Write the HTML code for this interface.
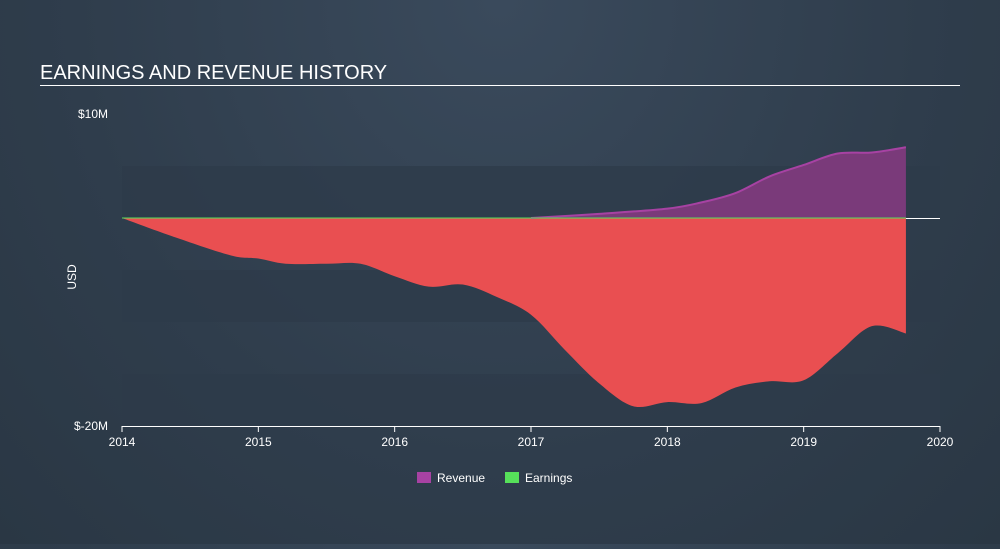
<!DOCTYPE html>
<html><head><meta charset="utf-8"><style>
body{margin:0;width:1000px;height:544px;overflow:hidden;background:radial-gradient(ellipse at 50% 0%,#3a4a5c 0%,#2f3d4c 60%,#2a3744 100%);font-family:"Liberation Sans",sans-serif;}
</style></head><body>
<svg width="1000" height="544" id="c">
<text x="40" y="79" fill="#fff" font-size="20">EARNINGS AND REVENUE HISTORY</text>
<line x1="40" y1="85.5" x2="960" y2="85.5" stroke="#fff" stroke-width="1"/>
<text x="76" y="277" fill="#fff" font-size="12" transform="rotate(-90 76 277)" text-anchor="middle">USD</text>
<g id="g"></g>
<g>
<rect x="417" y="472" width="14" height="11" fill="#a742a3"/>
<text x="437" y="482" fill="#fff" font-size="12">Revenue</text>
<rect x="505" y="472" width="14" height="11" fill="#56e05a"/>
<text x="525" y="482" fill="#fff" font-size="12">Earnings</text>
</g>
</svg>
<script>
const revYears=[2017,2017.5,2018,2018.25,2018.5,2018.75,2019,2019.25,2019.5,2019.75];
const revVals=[0,0.4,0.9,1.5,2.4,4.0,5.1,6.2,6.3,6.8];
const earnYears=[2014,2014.4,2014.8,2015,2015.2,2015.5,2015.75,2016,2016.25,2016.5,2016.75,2017,2017.25,2017.5,2017.75,2018,2018.25,2018.5,2018.75,2019,2019.25,2019.5,2019.75];
const earnVals=[0,-1.9,-3.6,-3.9,-4.4,-4.4,-4.4,-5.6,-6.6,-6.4,-7.6,-9.3,-12.7,-15.9,-18.1,-17.7,-17.8,-16.3,-15.7,-15.6,-13,-10.4,-11.1];
const xTicks=[2014,2015,2016,2017,2018,2019,2020];
const yTicks=[10,-20];
const yTickLabels=["$10M","$-20M"];
const X=v=>122+(v-2014)*(818/6);
const Y=v=>218-v*10.4;
const g=document.getElementById('g');
const NS='http://www.w3.org/2000/svg';
function mk(t,a){const e=document.createElementNS(NS,t);for(const k in a)e.setAttribute(k,a[k]);g.appendChild(e);return e;}
// bands
for(let i=0;i<5;i++){if(i%2)continue;const top=Y(5-i*5);const b=mk('rect',{x:122,y:top,width:818,height:Y(-i*5)-top,fill:'#2e3b49',opacity:0.75});

}
function smooth(xs,ys){let d='';const p=xs.map((x,i)=>[X(x),Y(ys[i])]);d='M'+p[0][0]+','+p[0][1];
for(let i=0;i<p.length-1;i++){const p0=p[i-1]||p[i],p1=p[i],p2=p[i+1],p3=p[i+2]||p2;
d+=` C${p1[0]+(p2[0]-p0[0])/6},${p1[1]+(p2[1]-p0[1])/6} ${p2[0]-(p3[0]-p1[0])/6},${p2[1]-(p3[1]-p1[1])/6} ${p2[0]},${p2[1]}`;}return d;}
const ea=mk('path',{d:smooth(earnYears,earnVals)+` L${X(earnYears[earnYears.length-1])},${Y(0)} L${X(earnYears[0])},${Y(0)}Z`,fill:'#e94f51'});


const ra=mk('path',{d:smooth(revYears,revVals)+` L${X(revYears[revYears.length-1])},${Y(0)} L${X(revYears[0])},${Y(0)}Z`,fill:'#7a3a7a',stroke:'none'});


const rl=mk('path',{d:smooth(revYears,revVals),fill:'none',stroke:'#a742a3','stroke-width':2});


const el=mk('line',{x1:X(2014),y1:Y(0),x2:X(earnYears[earnYears.length-1]),y2:Y(0),stroke:'#56e05a','stroke-width':1});


const zl=mk('line',{x1:X(earnYears[earnYears.length-1]),y1:Y(0)+0.5,x2:940,y2:Y(0)+0.5,stroke:'#fff','stroke-width':1});


const ax=mk('line',{x1:122,y1:426.5,x2:940,y2:426.5,stroke:'#fff','stroke-width':1});


xTicks.forEach(t=>{const l=mk('line',{x1:X(t),y1:426,x2:X(t),y2:432,stroke:'#fff'});


const tx=mk('text',{x:X(t),y:446,fill:'#fff','font-size':12,'text-anchor':'middle'});tx.textContent=t;

});
yTicks.forEach((t,i)=>{const tx=mk('text',{x:108,y:Y(t)+4,fill:'#fff','font-size':12,'text-anchor':'end'});tx.textContent=yTickLabels[i];

});
</script>
</body></html>
